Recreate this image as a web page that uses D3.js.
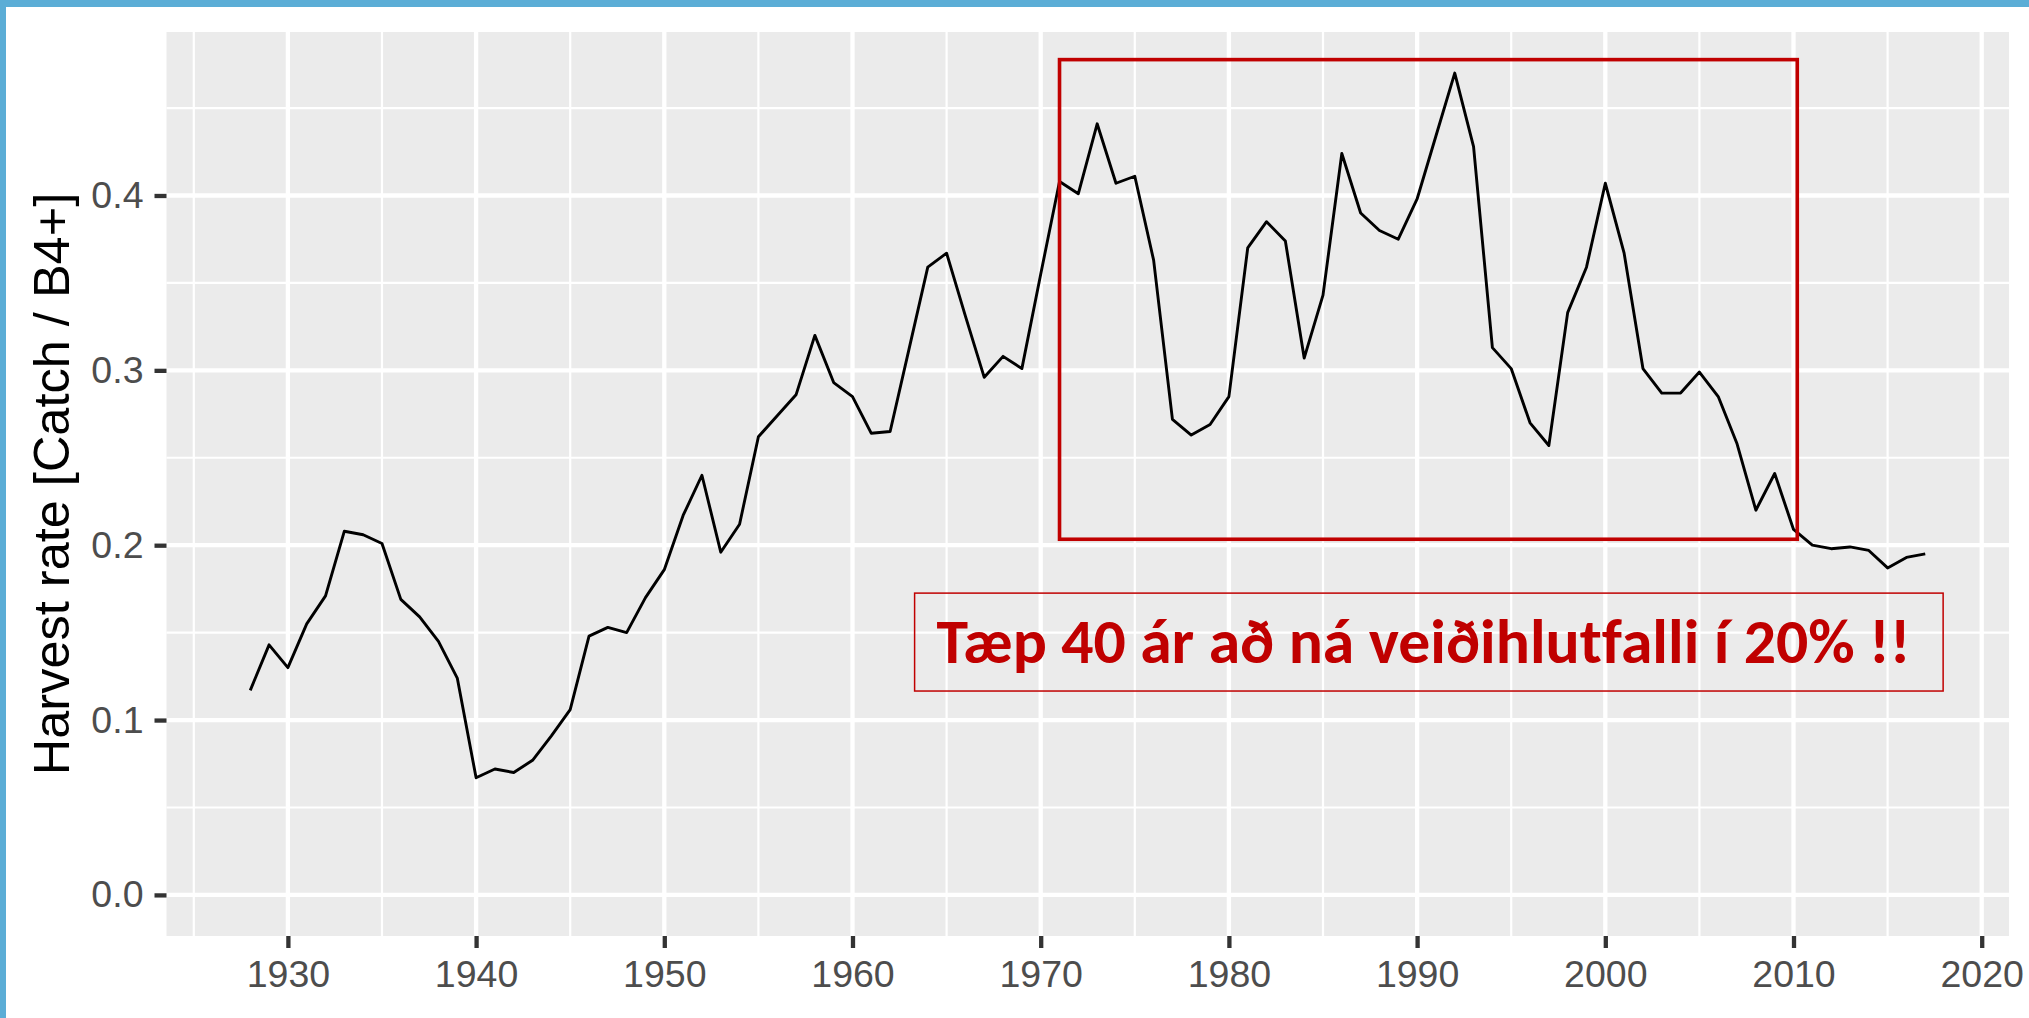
<!DOCTYPE html>
<html><head><meta charset="utf-8">
<script src="https://cdn.jsdelivr.net/npm/d3@7"></script>
<style>html,body{margin:0;padding:0;background:#fff;} svg{display:block;}</style>
</head><body>
<svg id="chart" width="2029" height="1018"></svg>
<script>
// ---- data ----
const years = [1928,1929,1930,1931,1932,1933,1934,1935,1936,1937,1938,1939,
  1940,1941,1942,1943,1944,1945,1946,1947,1948,1949,
  1950,1951,1952,1953,1954,1955,1956,1957,1958,1959,
  1960,1961,1962,1963,1964,1965,1966,1967,1968,1969,
  1970,1971,1972,1973,1974,1975,1976,1977,1978,1979,
  1980,1981,1982,1983,1984,1985,1986,1987,1988,1989,
  1990,1991,1992,1993,1994,1995,1996,1997,1998,1999,
  2000,2001,2002,2003,2004,2005,2006,2007,2008,2009,
  2010,2011,2012,2013,2014,2015,2016,2017];
const harvestRate = [0.117,0.143,0.130,0.155,0.171,0.208,0.206,0.201,0.169,0.159,0.145,0.124,
  0.067,0.072,0.070,0.077,0.091,0.106,0.148,0.153,0.150,0.170,
  0.186,0.217,0.240,0.196,0.212,0.262,0.274,0.286,0.320,0.293,
  0.285,0.264,0.265,0.312,0.359,0.367,0.331,0.296,0.308,0.301,
  0.355,0.408,0.401,0.441,0.407,0.411,0.363,0.272,0.263,0.269,
  0.285,0.370,0.385,0.374,0.307,0.343,0.424,0.390,0.380,0.375,
  0.398,0.434,0.470,0.428,0.313,0.301,0.270,0.257,0.333,0.359,
  0.407,0.367,0.301,0.287,0.287,0.299,0.285,0.258,0.220,0.241,
  0.209,0.200,0.198,0.199,0.197,0.187,0.193,0.195];
const xTicks = [1930,1940,1950,1960,1970,1980,1990,2000,2010,2020];
const xMinorTicks = [1925,1935,1945,1955,1965,1975,1985,1995,2005,2015];
const yTicks = [0.0,0.1,0.2,0.3,0.4];
const yTickLabels = ["0.0","0.1","0.2","0.3","0.4"];
const yMinorTicks = [0.05,0.15,0.25,0.35,0.45];
const yTitle = "Harvest rate [Catch / B4+]";
const highlightYears = [1971.0, 2010.2];
const highlightRates = [0.2034, 0.4777];
const noteYears = [1963.3, 2017.95];
const noteRates = [0.1166, 0.1726];
const noteText = "Tæp 40 ár að ná veiðihlutfalli í 20% !!";

// ---- layout ----
const W = 2029, H = 1018;
const panel = {left: 166.5, right: 2009, top: 32, bottom: 936};
const svg = d3.select("#chart");

// frame accents
svg.append("rect").attr("x",0).attr("y",0).attr("width",W).attr("height",7).attr("fill","#5BADD6");
svg.append("rect").attr("x",0).attr("y",0).attr("width",6).attr("height",H).attr("fill","#5BADD6");

// scales with ggplot-like 5% expansion
const xMin = d3.min(years), xMax = d3.max(years);
const xPad = (xMax - xMin) * 0.05;
const x = d3.scaleLinear().domain([xMin - xPad, xMax + xPad]).range([panel.left, panel.right]);
const yLo = 0, yHi = d3.max(harvestRate);
const yPad = (yHi - yLo) * 0.05;
const y = d3.scaleLinear().domain([yLo - yPad, yHi + yPad]).range([panel.bottom, panel.top]);

// panel background
svg.append("rect").attr("x",panel.left).attr("y",panel.top)
  .attr("width",panel.right-panel.left).attr("height",panel.bottom-panel.top).attr("fill","#EBEBEB");

const grid = svg.append("g");
// minor grid
grid.selectAll("line.ymin").data(yMinorTicks).join("line")
  .attr("x1",panel.left).attr("x2",panel.right).attr("y1",d=>y(d)).attr("y2",d=>y(d))
  .attr("stroke","#fff").attr("stroke-width",2.2);
grid.selectAll("line.xmin").data(xMinorTicks).join("line")
  .attr("y1",panel.top).attr("y2",panel.bottom).attr("x1",d=>x(d)).attr("x2",d=>x(d))
  .attr("stroke","#fff").attr("stroke-width",2.2);
// major grid
grid.selectAll("line.ymaj").data(yTicks).join("line")
  .attr("x1",panel.left).attr("x2",panel.right).attr("y1",d=>y(d)).attr("y2",d=>y(d))
  .attr("stroke","#fff").attr("stroke-width",4.3);
grid.selectAll("line.xmaj").data(xTicks).join("line")
  .attr("y1",panel.top).attr("y2",panel.bottom).attr("x1",d=>x(d)).attr("x2",d=>x(d))
  .attr("stroke","#fff").attr("stroke-width",4.3);

// data line
const pts = years.map((yr,i)=>({year:yr, v:harvestRate[i]}));
svg.append("path").datum(pts)
  .attr("d", d3.line().x(d=>x(d.year)).y(d=>y(d.v)))
  .attr("fill","none").attr("stroke","#000").attr("stroke-width",2.9)
  .attr("stroke-linejoin","round");

// axes
const font = "'Liberation Sans', Arial, Helvetica, sans-serif";
const xAxis = svg.append("g").attr("transform",`translate(0,${panel.bottom})`)
  .call(d3.axisBottom(x).tickValues(xTicks).tickFormat(d3.format("d")).tickSize(12).tickPadding(12));
const yAxis = svg.append("g").attr("transform",`translate(${panel.left},0)`)
  .call(d3.axisLeft(y).tickValues(yTicks).tickFormat((d,i)=>yTickLabels[i]).tickSize(12).tickPadding(11));
[xAxis,yAxis].forEach(g=>{
  g.select(".domain").remove();
  g.selectAll(".tick line").attr("stroke","#333333").attr("stroke-width",4.3);
  g.selectAll(".tick text").attr("fill","#4D4D4D").style("font-family",font).style("font-size","37.5px");
});

// y title
svg.append("text").attr("transform",`translate(69,${(panel.top+panel.bottom)/2}) rotate(-90)`)
  .attr("text-anchor","middle").style("font-family",font).style("font-size","50.5px")
  .attr("fill","#000").text(yTitle);

// highlight box
svg.append("rect")
  .attr("x",x(highlightYears[0])).attr("y",y(highlightRates[1]))
  .attr("width",x(highlightYears[1])-x(highlightYears[0]))
  .attr("height",y(highlightRates[0])-y(highlightRates[1]))
  .attr("fill","none").attr("stroke","#C00000").attr("stroke-width",3.6);

// note box
const nx0 = x(noteYears[0]), nx1 = x(noteYears[1]), ny0 = y(noteRates[1]), ny1 = y(noteRates[0]);
svg.append("rect").attr("x",nx0).attr("y",ny0).attr("width",nx1-nx0).attr("height",ny1-ny0)
  .attr("fill","none").attr("stroke","#C00000").attr("stroke-width",1.5);
svg.append("text").attr("x",nx0+22).attr("y",ny0+70)
  .attr("textLength",974).attr("lengthAdjust","spacingAndGlyphs")
  .style("font-family","Carlito, 'Open Sans', 'Noto Sans', sans-serif").style("font-weight","bold")
  .style("font-variant-ligatures","none").style("font-feature-settings","'liga' 0, 'clig' 0")
  .style("font-size","62px").attr("fill","#C00000").text(noteText);
</script>
</body></html>
